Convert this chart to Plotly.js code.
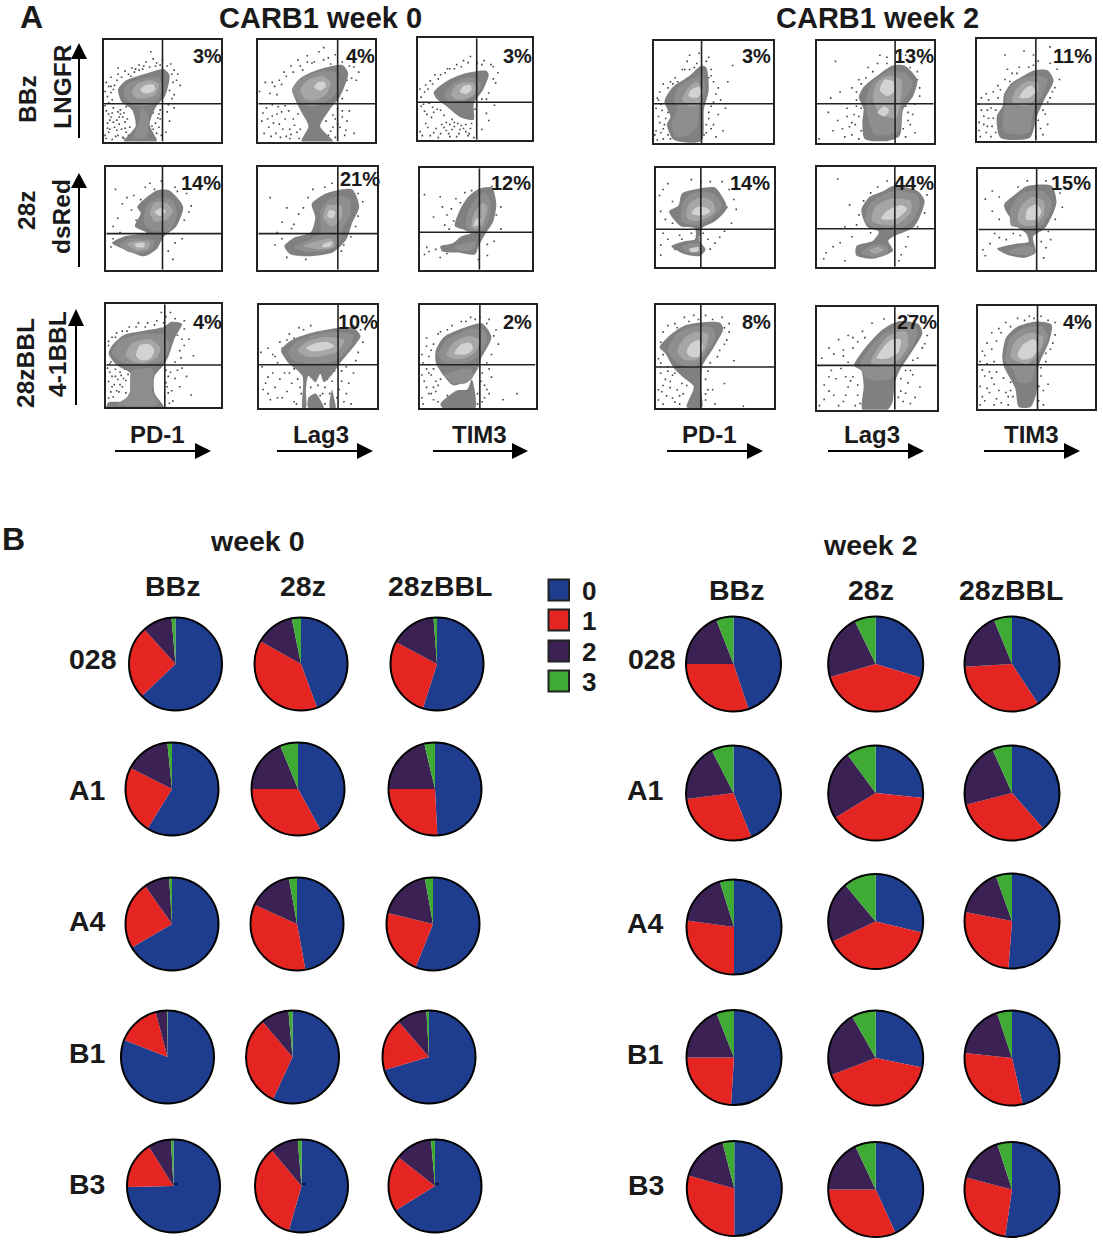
<!DOCTYPE html>
<html><head><meta charset="utf-8">
<script src="https://cdn.plot.ly/plotly-3.0.1.min.js"></script>
<style>html,body{margin:0;padding:0;background:#fff}</style></head>
<body><div id="chart" style="width:1103px;height:1240px"></div>
<script>
const W=1103,H=1240;
// ---------- Panel B data: percent of cells in each class ----------
const pieLabels=['0','1','2','3'];
const pieColors=['#1f3d8f','#e52521','#3b2154','#3fab35'];
const w0_028=[[62.9,25.4,10.3,1.4],[44.4,38.7,13.7,3.2],[54.9,27.9,16,1.2]];
const w0_A1=[[58.8,23.7,15.9,1.6],[42,33,18.8,6.2],[49.2,25.8,21.3,3.7]];
const w0_A4=[[66.6,23.6,8.8,1],[47.1,34.7,15.4,2.8],[56.1,22.7,18.4,2.8]];
const w0_B1=[[81,14.9,3.9,.2],[56.9,31.9,9.8,1.4],[70.5,18.2,10.4,.9]];
const w0_B3=[[74.7,16.4,8,.9],[54.4,34.5,9.8,1.3],[66.2,19.4,13,1.4]];
const w2_028=[[44.9,30.1,19.1,5.9],[29.7,40.9,22.2,7.2],[40.8,33.3,19.7,6.2]];
const w2_A1=[[43.9,29.1,19.5,7.5],[26.7,39.6,23.6,10.1],[38.5,32.5,22.3,6.7]];
const w2_A4=[[50,27.2,18,4.8],[28.7,39.4,20.8,11.1],[51.2,26.8,16.5,5.5]];
const w2_B1=[[51,24,19,6],[28.2,41,22.6,8.2],[46.4,30.3,18.2,5.1]];
const w2_B3=[[50,29.4,16.6,4],[43.2,31.8,18,7],[52.3,26.8,15.9,5]];
const pieRows=[w0_028,w0_A1,w0_A4,w0_B1,w0_B3,w2_028,w2_A1,w2_A4,w2_B1,w2_B3];
const pieCentres=[
 [[175.5,664],[301,664],[437,664]],[[172,789],[298,789],[435,789]],
 [[172,924],[297,924],[433,924]],[[167.5,1057],[292.5,1057],[429,1057]],
 [[173.5,1186],[301.5,1186],[435,1186]],
 [[733.5,664],[875.7,664],[1012,664]],[[733.5,793],[875.7,793],[1012,793]],
 [[734,927],[875.7,921.5],[1012,921]],[[734,1057.5],[875.7,1058],[1012,1058]],
 [[734.3,1188.5],[875.7,1189.5],[1012,1189.5]]];
const pieRadii=[46.5,47.5];
// ---------- Panel A data: quadrant gates, percent labels ----------
const frames=[[103,222,38.5,142.5],[257.3,376,38.5,142.5],[416.7,533.3,37.3,140.7],
[105.3,222,165.7,270.7],[257.3,378,165.7,270.7],[419,533.3,167.3,270.7],
[105.3,222,303.3,408.3],[257.5,378.2,304,409],[418.6,536.5,304,409],
[652.7,774.3,40,144],[815.7,934.7,40,144],[975.7,1096,37.7,141.7],
[655,775,166.7,268],[815.7,935,166,267.7],[977.3,1096,167.7,271],
[655,775,304,409.3],[816,937.7,305.7,410.7],[976.7,1096,305,410]];
const gateX=[50,68,51.5,49,67,52.9,51,67,52,40,67,50,38,66.6,50,38,65,51];
const gateY=[37,37,37,35,35,37,41,42,42,38.5,38.5,36,38,38,40,40,43,43];
const pctLabels=['3%','4%','3%','14%','21%','12%','4%','10%','2%','3%','13%','11%','14%','44%','15%','8%','27%','4%'];
const pctPos=[[207,56],[360,56],[517,56],[201,183],[360,179],[511,183],[207,322],[358,322],[517,322],[756,56],[914,56],[1072,56],[750,183],[914,183],[1071,183],[756,322],[917,322],[1077,322]];
// contour layers: each entry = [level, x,y, x,y, ...] in axis units
const b1=[[0,17,0,27,15,24,31,15,39,12,51,19,60,37,67,51,71,56,65,52,44,45,35,39,17,45,0],[1,17,45,20,56,35,62,47,62,50,50,45,40,35,34,25,36],[1,26,4,30,20,32,33,38,25,36,4],[2,24,48,28,56,40,60,47,56,44,46,35,42,27,43],[3,31,51,35,55,42,56,44,51,38,47,33,48]];
const b2=[[0,37,0,43,15,36,31,29,51,36,62,53,71,72,75,77,67,70,44,61,31,53,15,64,0],[1,29,50,35,60,50,68,65,68,70,55,62,42,47,34,36,38],[2,36,50,42,60,55,64,62,58,58,46,47,40,40,42],[3,48,53,51,58,57,58,58,54,53,50]];
const b3=[[0,14,47,24,57,40,65,60,68,62,64,57,49,49,36,49,20,43,20,36,23,24,34,16,41],[1,23,45,30,55,42,61,52,60,55,52,48,42,36,37,27,38],[2,29,44,33,53,42,57,50,55,50,46,42,40,33,40],[3,37,47,40,53,46,54,47,49,42,45]];
const b4=[[0,5,26,15,32,35,36,25,42,30,55,27,61,44,77,55,77,67,61,61,42,50,32,44,20,33,13,15,20],[1,12,24,20,30,35,30,42,28,40,20,28,16,18,18],[1,33,45,35,62,47,70,57,68,62,55,55,38,40,38],[2,18,25,30,28,38,26,36,20,26,19],[2,38,55,42,65,52,65,58,57,52,48,42,47],[3,25,25,33,26,33,22,26,22],[3,42,56,48,60,52,57,47,52]];
const b5=[[0,22,23,30,31,44,36,48,51,45,64,57,74,79,78,85,61,79,45,74,29,63,17,44,13,27,15],[1,30,22,45,30,52,36,53,60,62,70,76,70,78,55,70,38,68,25,55,18,38,18],[2,38,23,50,28,62,30,64,22,50,20],[2,55,50,58,62,70,62,70,50,62,42],[3,55,25,62,27,61,23,54,22],[3,58,52,60,58,65,56,63,50]];
const b6=[[0,18,23,29,26,37,33,45,36,40,39,31,43,36,60,43,72,53,80,64,81,68,64,65,47,58,35,52,23,49,15,34,17,20,18],[1,41,42,43,58,50,70,58,76,63,66,61,48,54,38,46,36],[1,30,22,45,27,50,28,47,20,35,19],[2,46,42,48,55,56,66,60,62,57,48,52,40],[3,48,43,50,50,54,50,53,44]];
const b7=[[0,0,0,2,5,15,6,23,21,21,33,9,41,2,52,5,60,15,70,36,75,50,78,57,83,66,81,60,68,54,49,50,41,42,30,42,14,50,0],[1,5,52,12,65,30,71,50,70,55,60,50,46,35,41,18,42],[1,22,35,40,37,40,15,45,3,10,3,20,12],[2,17,50,22,62,38,66,47,58,44,48,33,43,24,44],[3,26,50,29,60,38,61,42,55,38,47,30,46]];
const b8=[[0,19,56,28,66,48,74,69,78,80,78,86,70,77,55,69,44,61,31,55,25,52,33,48,25,42,31,40,18,40,0,37,0,37,31,25,44],[0,42,0,42,10,48,14,52,8,55,0],[0,60,0,62,18,64,8,65,0],[1,25,54,32,64,48,71,68,74,80,70,76,58,65,46,45,43,30,46],[2,33,56,42,65,58,69,72,66,67,55,52,50,40,50],[3,40,58,48,63,58,64,64,60,55,56,46,55]];
const b9=[[0,14,56,21,69,44,80,54,82,62,69,53,48,51,40,44,28,29,22,21,31,14,44],[0,18,4,32,17,41,18,45,28,48,0,20,0],[1,16,52,24,66,42,76,55,76,58,66,50,50,38,43,22,44],[1,22,32,44,38,46,30,40,24,30,24],[2,23,52,30,64,42,70,52,66,48,54,38,48,28,48],[3,30,53,36,62,44,63,46,57,40,52]];
const b10=[[0,17,3,11,18,14,26,9,41,16,55,30,66,40,76,44,74,46,52,42,33,40,2],[1,17,42,20,54,30,62,40,66,43,52,38,36,37,18,30,8,18,6,15,20,20,34],[2,24,42,28,53,36,60,41,52,38,38,30,36],[3,29,46,31,52,38,55,40,50,36,44]];
const b11=[[0,41,4,39,20,40,33,36,45,40,55,54,68,65,76,75,76,86,62,82,45,74,33,71,7,61,2],[1,42,42,48,60,62,70,76,68,82,58,74,40,70,12,50,8,44,24],[2,48,46,52,60,62,66,72,62,72,44,68,25,55,28,50,36],[3,54,52,58,62,66,60,66,50,60,46],[3,52,30,58,36,62,32,58,26]];
const b12=[[0,20,3,17,24,22,34,23,45,29,56,40,64,49,69,60,69,65,59,58,42,51,24,45,3],[1,24,35,26,48,36,60,50,64,60,60,55,44,48,30,44,8,24,8,22,22],[2,30,38,33,50,42,58,52,56,50,42,42,34],[3,36,42,40,50,46,54,50,48,44,42]];
const b13=[[0,11,56,19,62,22,74,37,79,50,80,58,67,60,59,50,46,39,39,37,26,42,18,37,11,24,13,13,21,24,26,33,28,33,39,21,41],[1,22,46,22,62,30,74,48,74,56,62,46,48,34,42],[1,22,20,30,24,38,22,38,14,26,15],[2,26,50,28,64,38,70,48,66,50,56,40,48,32,46],[3,30,54,34,60,42,60,46,56,40,52],[3,28,18,36,20,36,16,30,15]];
const b14=[[0,33,14,34,21,48,26,53,35,43,40,38,57,45,70,57,76,65,81,86,76,92,66,83,40,65,30,61,26,65,16,48,8,34,11],[1,42,44,43,58,50,68,66,76,85,72,88,62,80,44,65,36],[1,38,14,48,22,60,20,60,13,48,10],[2,47,46,50,60,62,68,80,66,80,54,68,42,56,42],[2,45,16,52,20,57,17,50,13],[3,55,48,60,56,72,62,77,58,68,48]];
const b15=[[0,16,21,32,26,43,28,41,36,33,43,22,64,32,75,42,83,63,83,67,67,63,53,57,41,47,33,49,17,39,12,25,15],[1,28,44,28,62,38,76,55,78,63,66,56,46,44,40,36,42],[1,25,18,40,24,47,22,46,15,35,15],[2,34,48,36,62,46,72,56,68,56,54,48,44,40,44],[3,41,50,42,60,50,65,54,58,50,50]];
const b16=[[0,3,59,13,72,24,80,37,83,54,83,57,77,49,59,39,40,38,20,39,1,26,1,32,21,24,29,15,39,8,53],[1,10,55,16,70,30,79,48,78,50,68,40,50,33,40,18,44],[2,18,55,24,68,34,74,44,72,42,58,34,47,24,47],[3,26,54,29,62,36,66,40,60,36,50,29,50]];
const b17=[[0,31,43,41,61,55,78,69,86,85,83,88,74,79,56,69,38,65,26,63,7,59,0,38,0,39,23,37,38],[1,36,43,44,60,56,74,72,82,84,78,80,62,68,42,62,30,50,28,42,30],[2,45,46,50,58,60,72,74,76,76,62,66,46,55,42],[3,50,50,55,60,62,68,70,68,68,56,60,50]];
const b18=[[0,21,51,24,69,34,80,50,85,63,82,61,66,52,42,50,15,45,2,35,2,32,20,22,42],[1,24,46,27,68,38,78,55,80,60,70,52,50,45,26,35,26,30,38],[2,28,50,32,66,44,74,56,70,52,54,42,44],[3,34,52,38,62,48,68,52,60,46,50,38,48]];
const blobs=[b1,b2,b3,b4,b5,b6,b7,b8,b9,b10,b11,b12,b13,b14,b15,b16,b17,b18];
// sparse events: x,y, x,y, ...
const d1=[2,3,4,9,7,2,9,14,3,18,12,6,15,12,6,24,11,21,17,3,19,9,2,30,8,33,14,27,18,19,21,6,5,12,13,17,16,24,24,3,36,4,40,9,44,3,47,14,38,20,46,23,42,28,48,31,53,9,56,20,54,29,60,33,3,44,6,48,9,55,2,58,6,63,12,66,18,69,24,72,30,75,36,78,42,81,26,68,34,74,44,74,50,80,57,76,60,70,62,60,65,55,58,42,55,36,40,88,12,72,6,54,1,6,3,13,5,21,7,28,10,5,11,11,13,24,14,31,16,4,18,13,20,22,22,14,1,35,4,27,8,19,12,29,19,34,17,28,42,12,45,8,48,22,44,18,49,6,41,15,47,27,4,38,7,41,1,49,4,54,8,51,11,60,15,63,21,66,27,71,33,71,39,73,45,77,48,75,54,74,58,66,59,58,56,50,60,46,63,66,23,64,30,70];
const d2=[3,20,7,33,12,25,15,8,18,17,24,5,27,12,30,22,33,9,20,29,9,14,35,3,66,4,68,17,72,24,75,11,62,10,58,20,64,26,78,30,82,8,10,47,14,54,18,60,6,58,22,68,28,74,34,80,42,84,52,88,60,82,66,85,78,82,82,73,80,62,76,50,72,42,38,70,46,77,86,68,90,78,56,92,1,49,5,8,8,22,11,5,13,18,16,27,19,4,21,12,23,22,26,30,28,7,31,16,34,27,36,12,4,28,12,36,17,34,23,35,27,3,60,6,64,14,66,22,70,14,72,30,76,20,74,6,68,32,16,46,12,58,20,56,24,64,30,68,36,74,42,78,48,78,56,80,62,76,72,78,78,74,76,60,84,60];
const d3=[4,4,9,12,14,7,18,2,21,15,25,9,28,3,32,13,36,6,40,11,44,4,47,16,30,20,12,22,6,28,17,30,3,33,10,36,3,42,6,47,9,50,13,55,18,60,24,66,28,70,34,74,40,78,46,82,52,76,58,78,66,72,70,66,68,56,62,46,56,40,60,26,56,10,62,19,15,64,45,6,35,16,23,24,50,30,67,34,2,8,7,16,11,4,16,11,20,6,23,12,27,6,30,10,34,3,37,10,42,8,46,11,49,2,25,17,28,15,32,17,38,14,42,15,8,25,14,27,20,29,5,35,13,32,2,50,7,54,11,58,20,64,26,70,32,70,38,72,44,76,56,74,64,74,66,60,60,40];
const d4=[10,50,14,64,8,78,18,70,22,58,26,48,30,68,34,80,12,36,6,42,42,78,38,84,48,86,60,80,70,74,74,62,68,48,66,30,60,26,54,18,58,10,4,22,6,30,72,56,24,72,30,42,62,76];
const d5=[10,70,24,60,34,54,38,60,30,44,20,46,14,24,16,36,42,70,46,78,56,80,62,84,84,74,88,66,82,42,78,32,72,24,70,18,40,10,24,12,20,30,28,40,84,52];
const d6=[4,74,18,72,20,62,24,54,28,60,12,52,22,44,26,40,30,48,32,70,36,66,40,76,6,22,8,18,4,15,14,20,18,12,24,16,60,25,60,14,66,28,72,40,68,54,72,62,64,82,46,78,35,30,52,10];
const d7=[3,3,6,10,9,16,12,22,15,28,5,20,8,30,3,34,12,34,17,14,16,37,3,42,7,46,2,60,8,68,14,74,20,78,28,82,36,82,44,84,52,88,60,86,68,76,72,66,64,55,60,44,56,34,52,24,54,14,58,6,64,20,70,30,74,12,66,38,76,50,56,92,48,92,2,9,4,15,7,22,10,27,13,31,2,25,5,30,8,37,11,15,14,20,17,26,19,32,1,38,4,44,52,36,54,30,53,20,51,10,55,4,57,16,60,28,62,36,65,48,68,60,62,70,66,66,9,72,18,74,26,78,34,78,42,80,50,82,2,64,5,68,62,78,68,84];
const d8=[3,40,8,30,14,20,20,10,28,24,32,4,36,14,10,8,4,18,22,34,30,38,16,44,12,52,8,58,18,64,26,72,34,78,44,80,50,34,56,20,60,14,62,26,64,36,68,18,72,6,76,24,80,34,70,36,84,54,88,64,90,76,2,54,46,6,52,12,56,4,6,24,12,34,18,28,24,16,26,34,30,6,33,28,35,20,8,14,16,10,44,20,47,8,50,22,54,14,58,28,66,10,70,26,74,14,78,4,74,40,82,46,14,50,20,58,24,66,30,68,38,76,80,80,86,76];
const d9=[3,4,8,14,4,26,12,8,16,22,20,34,6,38,10,32,3,44,8,50,12,62,6,68,16,72,24,76,36,84,44,88,52,88,60,86,66,76,68,62,62,52,58,44,54,34,56,22,56,10,62,30,50,4,24,12,14,16,32,8,60,14,72,8,84,14,2,10,6,20,10,14,14,26,18,28,2,32,8,34,12,20,16,6,50,14,53,26,54,6,58,18,48,36,60,38,2,52,6,60,10,56,18,74,28,80,40,84,48,86,58,82,64,70,8,42,12,38];
const d10=[3,3,6,10,9,18,4,26,7,32,11,38,3,44,5,50,8,58,14,60,18,64,24,72,28,80,34,74,30,86,38,88,46,84,48,72,50,60,52,48,48,36,46,24,48,14,52,6,44,10,56,42,60,34,62,60,66,76,12,8,14,4,2,12,8,14,5,20,10,24,2,34,6,38,4,42,12,30,1,8,8,4,42,8,44,18,46,30,50,40,54,54,46,64,44,80,48,66,20,60,12,54,16,58,26,72,30,72,36,78,50,18,54,28,58,12];
const d11=[2,4,10,30,14,12,18,22,24,6,28,16,32,28,36,4,34,36,38,12,26,34,12,44,20,50,30,54,36,62,44,74,52,78,60,84,68,88,76,86,86,70,90,78,88,54,84,38,78,30,80,18,84,10,76,6,72,22,62,4,16,80,54,86,22,14,26,26,30,8,33,18,36,26,38,34,34,42,30,20,74,14,78,22,82,28,76,36,88,46,86,62,80,74,70,80,60,78,48,70,42,64,38,58,34,50];
const d12=[3,4,8,8,6,16,10,22,4,30,13,14,16,8,12,32,4,42,8,46,14,48,18,54,24,60,26,70,30,66,36,72,44,72,48,84,52,78,62,76,68,70,70,60,64,48,60,38,58,26,54,12,56,6,50,4,40,88,24,84,62,92,2,10,6,24,9,14,12,4,14,22,2,18,9,30,16,30,10,40,2,36,18,42,20,14,52,20,56,30,60,16,62,42,66,52,48,74,34,66,28,58,20,50];
const d13=[3,72,6,78,10,84,14,66,4,56,8,48,14,44,6,34,10,28,4,22,16,18,20,32,22,28,30,34,40,34,44,28,46,18,50,24,54,30,58,36,64,44,68,58,66,68,62,78,56,86,46,86,38,86,30,88,60,60,4,12];
const d14=[8,14,14,20,20,24,6,8,24,6,30,30,36,52,28,62,40,66,46,74,52,80,60,86,88,84,94,72,92,54,86,40,78,30,76,20,72,12,70,6,24,40,34,42,18,88,46,34];
const d15=[4,20,6,14,10,26,14,36,18,32,24,30,30,36,36,34,6,70,12,78,18,72,24,60,28,70,34,82,42,88,58,88,70,76,72,62,66,50,60,38,54,28,58,22,62,30,56,12,12,58,18,50];
const d16=[2,8,5,16,8,28,12,20,16,6,20,12,4,34,22,24,26,30,16,34,10,36,2,48,4,64,6,74,10,80,16,82,24,88,32,90,42,90,56,88,62,82,62,74,58,62,52,50,44,36,42,28,44,18,42,8,50,4,48,18,58,24,74,2,14,10,66,46,2,18,6,22,9,12,12,26,14,32,18,18,20,4,23,14,26,22,6,4,10,40,4,44,6,52,12,68,18,78,28,84,36,86,48,86,58,78,60,66,54,56,46,44,42,14];
const d17=[2,4,6,10,10,18,16,30,12,38,22,8,26,22,30,32,34,14,20,40,4,50,10,60,18,68,26,72,14,54,30,70,38,76,46,84,56,88,76,92,90,84,92,72,88,60,80,48,74,38,70,30,70,18,76,26,82,12,80,34,72,8,32,4,6,24,10,32,14,14,18,4,24,14,28,28,34,24,36,6,24,32,26,46,22,52,30,60,34,66,22,58,40,70,68,12,74,16,78,6,86,22,78,38,84,50,90,64,86,74];
const d18=[2,4,4,12,8,20,12,30,16,10,20,6,24,16,28,26,4,38,8,44,14,46,4,56,8,64,12,74,18,78,24,84,34,88,44,90,54,90,66,84,66,72,62,58,58,46,54,32,56,18,52,8,60,24,26,4,30,12,14,24,2,22,6,8,10,16,14,4,18,18,22,30,26,12,28,18,6,32,10,36,16,36,2,46,6,52,12,58,16,66,20,74,28,80,40,86,48,88,60,86,64,64,58,54,54,40,52,22,56,4];
const dots=[d1,d2,d3,d4,d5,d6,d7,d8,d9,d10,d11,d12,d13,d14,d15,d16,d17,d18];
const levelColors=['#808080','#8e8e8e','#a6a6a6','#d2d2d2'];

const px=v=>v/W, py=v=>1-v/H;
const traces=[],layout={width:W,height:H,autosize:false,margin:{l:0,r:0,t:0,b:0},paper_bgcolor:'#fff',plot_bgcolor:'#fff',showlegend:false,shapes:[],annotations:[]};
const ink='#1a1a1a';
function label(t,x,y,size,angle){layout.annotations.push({text:'<b>'+t+'</b>',x:px(x),y:py(y),xref:'paper',yref:'paper',xanchor:'center',yanchor:'middle',showarrow:false,textangle:angle||0,font:{family:'Liberation Sans',size:size,color:ink}});}
function line(x0,y0,x1,y1,w){layout.shapes.push({type:'line',xref:'paper',yref:'paper',x0:px(x0),y0:py(y0),x1:px(x1),y1:py(y1),line:{color:'#000',width:w||2}});}
function tri(a,b,c){const p=q=>px(q[0]).toFixed(5)+','+py(q[1]).toFixed(5);layout.shapes.push({type:'path',xref:'paper',yref:'paper',path:'M'+p(a)+'L'+p(b)+'L'+p(c)+'Z',fillcolor:'#000',line:{width:0}});}
function arrowR(x0,x1,tip,y){line(x0,y,x1,y);tri([x1,y-8],[tip,y],[x1,y+8]);}
function arrowU(x,bottom,base,tip){line(x,bottom,x,base);tri([x-8,base],[x,tip],[x+8,base]);}

frames.forEach((f,i)=>{
 const xa=i?'x'+(i+1):'x',ya=i?'y'+(i+1):'y';
 const ax={range:[0,100],showticklabels:false,ticks:'',showgrid:false,zeroline:false,showline:true,mirror:true,linecolor:'#222',linewidth:2,fixedrange:true};
 layout[i?'xaxis'+(i+1):'xaxis']=Object.assign({},ax,{domain:[px(f[0]+1),px(f[1]-1)],anchor:ya});
 layout[i?'yaxis'+(i+1):'yaxis']=Object.assign({},ax,{domain:[py(f[3]-1),py(f[2]+1)],anchor:xa});
 const d=dots[i];
 traces.push({type:'scatter',mode:'markers',xaxis:xa,yaxis:ya,x:d.filter((_,k)=>k%2==0),y:d.filter((_,k)=>k%2==1),marker:{size:1.6,color:'#444',symbol:'square'},hoverinfo:'skip'});
 blobs[i].forEach(b=>{
  const xs=[],ys=[];for(let k=1;k<b.length;k+=2){xs.push(b[k]);ys.push(b[k+1]);}
  xs.push(xs[0]);ys.push(ys[0]);
  traces.push({type:'scatter',mode:'lines',fill:'toself',xaxis:xa,yaxis:ya,x:xs,y:ys,fillcolor:levelColors[b[0]],line:{width:0,shape:'spline',smoothing:.7},hoverinfo:'skip'});
 });
 traces.push({type:'scatter',mode:'lines',xaxis:xa,yaxis:ya,x:[gateX[i],gateX[i]],y:[0,100],line:{color:'#222',width:1.6},hoverinfo:'skip'});
 traces.push({type:'scatter',mode:'lines',xaxis:xa,yaxis:ya,x:[0,100],y:[gateY[i],gateY[i]],line:{color:'#222',width:1.6},hoverinfo:'skip'});
 label(pctLabels[i],pctPos[i][0],pctPos[i][1],20);
});
pieRows.forEach((row,r)=>row.forEach((vals,c)=>{
 const ctr=pieCentres[r][c],R=pieRadii[r>=5?1:0];
 traces.push({type:'pie',values:vals,labels:pieLabels,sort:false,direction:'clockwise',rotation:0,textinfo:'none',hoverinfo:'label+percent',marker:{colors:pieColors,line:{width:0}},domain:{x:[px(ctr[0]-R),px(ctr[0]+R)],y:[py(ctr[1]+R),py(ctr[1]-R)]}});
 layout.shapes.push({type:'circle',xref:'paper',yref:'paper',x0:px(ctr[0]-R),x1:px(ctr[0]+R),y0:py(ctr[1]+R),y1:py(ctr[1]-R),line:{color:'#000',width:2}});
 if(r==4) line(ctr[0],ctr[1]-2,ctr[0]+4,ctr[1]-2,1.2);
}));
// legend
pieLabels.forEach((t,i)=>{
 const y0=[579.5,609.5,640.5,670.5][i];
 layout.shapes.push({type:'rect',xref:'paper',yref:'paper',x0:px(548.5),x1:px(569),y0:py(y0+21),y1:py(y0),fillcolor:pieColors[i],line:{color:'#222',width:2}});
 label(t,589,y0+11,26);
});
// panel A text
label('A',31,17,32);label('CARB1 week 0',320.5,18,29);label('CARB1 week 2',877,18,29);
label('BBz',27,99,24.5,-90);label('LNGFR',62,87,24.5,-90);
label('28z',27,210,24.5,-90);label('dsRed',61,217,24.5,-90);
label('28zBBL',25,363,24.5,-90);label('4-1BBL',58,354,24.5,-90);
[[157,321,479],[709,872,1031]].forEach(g=>{label('PD-1',g[0],434,24);label('Lag3',g[1],434,24);label('TIM3',g[2],434,24);});
arrowR(115,195,211,451);arrowR(277,357,373,451);arrowR(433,512,528,451);
arrowR(667,747,763,451);arrowR(828,908,924,451);arrowR(984,1064,1080,451);
arrowU(79,138,59,43);arrowU(79,267,188,173);arrowU(76,405,326,309);
// panel B text
label('B',13,539,32);label('week 0',257,541,28.5);label('week 2',870,545,28.5);
['BBz','28z','28zBBL'].forEach((t,i)=>{label(t,[172,303,440][i],586,28.5);label(t,[736,871,1011][i],590,28.5);});
['028','A1','A4','B1','B3'].forEach((t,i)=>{label(t,i?87:93,[659,790,921,1053,1184][i],28.5);label(t,i?645.5:652,[659,790,923,1054,1185][i],28.5);});
Plotly.newPlot('chart',traces,layout,{displayModeBar:false});
</script></body></html>
